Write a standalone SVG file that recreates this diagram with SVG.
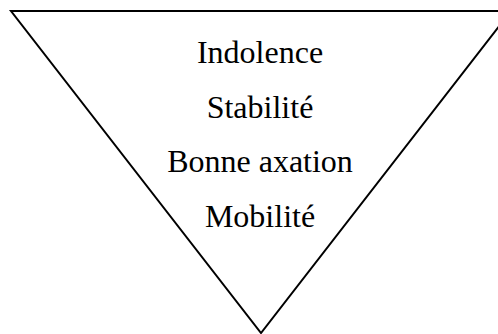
<svg xmlns="http://www.w3.org/2000/svg" width="498" height="334" viewBox="0 0 498 334">
<style>
.shape{fill:#ffffff;stroke:#000000;stroke-width:2;stroke-linejoin:miter}
.lbl{font-family:"Liberation Serif","Times New Roman",serif;font-size:32px;fill:#000000;text-anchor:middle}
</style>
<rect width="498" height="334" fill="#ffffff"/>
<g id="triangle">
<polygon class="shape" points="11,11 511,11 261,333"/>
</g>
<g id="labels">
<text class="lbl" x="260" y="63">Indolence</text>
<text class="lbl" x="260" y="118">Stabilité</text>
<text class="lbl" x="260" y="172">Bonne axation</text>
<text class="lbl" x="260" y="227">Mobilité</text>
</g>
</svg>
